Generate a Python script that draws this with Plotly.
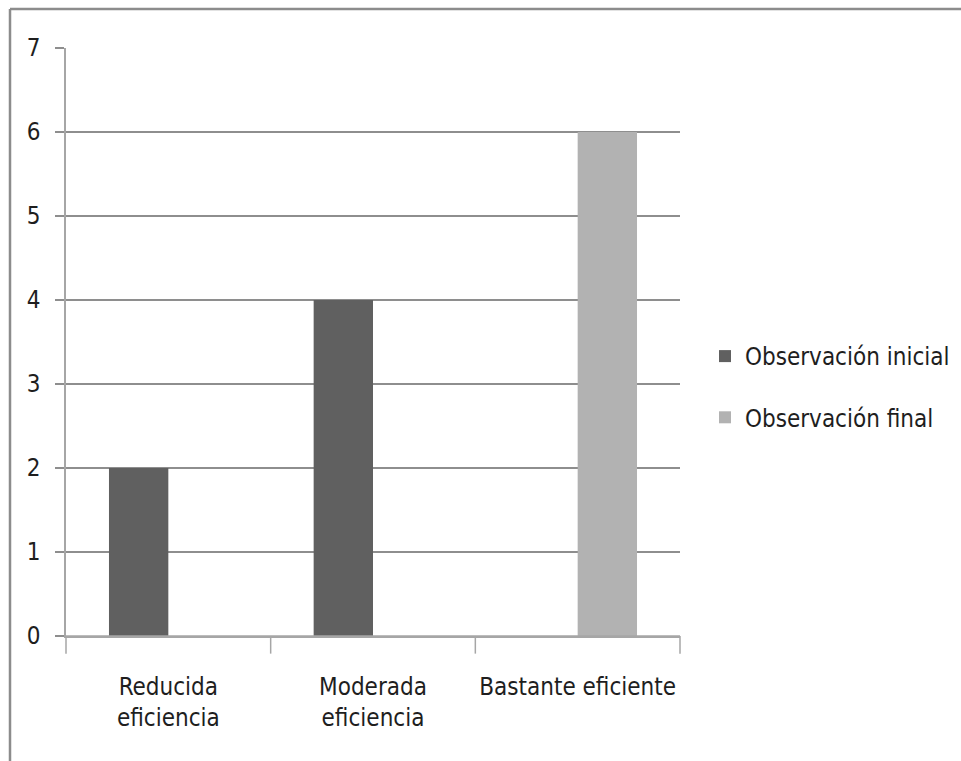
import plotly.graph_objects as go

categories = ["Reducida eficiencia", "Moderada eficiencia", "Bastante eficiente"]
tick_labels = ["Reducida<br>eficiencia", "Moderada<br>eficiencia", "Bastante eficiente"]
initial_values = [2, 4, 0]
final_values = [0, 0, 6]
series_names = ["Observación inicial", "Observación final"]
y_ticks = [0, 1, 2, 3, 4, 5, 6, 7]

FONT = "DejaVu Sans Condensed, Liberation Sans Narrow, Roboto, sans-serif"
FS = 24

fig = go.Figure()
fig.add_trace(go.Bar(x=categories, y=initial_values, name=series_names[0],
                     marker=dict(color="#606060", line=dict(width=0)), legendgroup="a"))
fig.add_trace(go.Bar(x=categories, y=final_values, name=series_names[1],
                     marker=dict(color="#b2b2b2", line=dict(width=0)), legendgroup="b"))

fig.update_layout(
    width=961, height=761,
    margin=dict(l=66, r=281, t=48, b=125),
    paper_bgcolor="white", plot_bgcolor="white",
    barmode="group", bargap=0.42, bargroupgap=0,
    font=dict(family=FONT, size=FS, color="#1e1e1e"),
    showlegend=True,
    legend=dict(xref="container", yref="container", x=705/961, y=1-387/761,
                xanchor="left", yanchor="middle", tracegroupgap=27,
                font=dict(family=FONT, size=FS, color="#1e1e1e"),
                bgcolor="rgba(0,0,0,0)"),
    xaxis=dict(tickmode="array", tickvals=categories, ticktext=tick_labels,
               showline=True, linecolor="#a6a6a6", linewidth=1.5,
               ticks="", showgrid=False, zeroline=False,
               ticklabelstandoff=28,
               tickfont=dict(family=FONT, size=FS, color="#1e1e1e")),
    yaxis=dict(range=[0, 7], tickmode="array", tickvals=y_ticks,
               showline=True, linecolor="#a6a6a6", linewidth=1.5,
               ticks="outside", ticklen=9, tickcolor="#8e8e8e", tickwidth=1.5,
               showgrid=True, gridcolor="#8e8e8e", gridwidth=1.5,
               zeroline=False, ticklabelstandoff=10,
               tickfont=dict(family=FONT, size=FS, color="#1e1e1e")),
    shapes=[
        dict(type="line", xref="paper", yref="paper", x0=0, x1=1, y0=0, y1=0,
             line=dict(color="#a6a6a6", width=1.5)),
        dict(type="line", xref="x domain", yref="paper", x0=1/3, x1=1/3, y0=0, y1=-0.03,
             line=dict(color="#a6a6a6", width=1.5)),
        dict(type="line", xref="x domain", yref="paper", x0=2/3, x1=2/3, y0=0, y1=-0.03,
             line=dict(color="#a6a6a6", width=1.5)),
        dict(type="line", xref="x domain", yref="paper", x0=1, x1=1, y0=0, y1=-0.03,
             line=dict(color="#a6a6a6", width=1.5)),
        dict(type="line", xref="x domain", yref="paper", x0=0, x1=0, y0=0, y1=-0.03,
             line=dict(color="#a6a6a6", width=1.5)),
        dict(type="line", xref="paper", yref="paper", x0=-56/614, x1=895/614,
             y0=1+39/588, y1=1+39/588, line=dict(color="#8c8c8c", width=2.5)),
        dict(type="line", xref="paper", yref="paper", x0=-56/614, x1=-56/614,
             y0=1+39/588, y1=-125/588, line=dict(color="#8c8c8c", width=2.5)),
    ],
)

fig.write_html("out.html", config={"displayModeBar": False},
               post_script="document.body.style.margin='0';")
